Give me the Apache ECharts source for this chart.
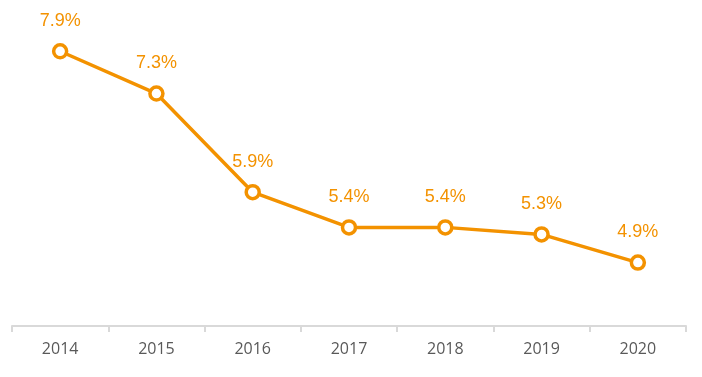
<!DOCTYPE html>
<html>
<head>
<meta charset="utf-8">
<script src="https://cdn.jsdelivr.net/npm/echarts@6/dist/echarts.min.js"></script>
<style>
  html, body { margin: 0; padding: 0; background: #fff; }
  #chart { width: 702px; height: 377px; }
</style>
</head>
<body>
<div id="chart"></div>
<script>
const years = ['2014', '2015', '2016', '2017', '2018', '2019', '2020'];
const rates = [7.9, 7.3, 5.9, 5.4, 5.4, 5.3, 4.9];

const chart = echarts.init(document.getElementById('chart'));
const orange = '#F39200';

chart.setOption({
    backgroundColor: '#fff',
    animation: false,
    grid: { left: 12, right: 16, top: 9, bottom: 51 },
    xAxis: {
        type: 'category',
        data: years,
        boundaryGap: true,
        axisLine: { lineStyle: { color: '#d9d9d9', width: 2 } },
        axisTick: { show: true, length: 6, lineStyle: { color: '#d9d9d9', width: 2 } },
        axisLabel: { color: '#595959', fontSize: 16, fontFamily: 'Open Sans', margin: 15 }
    },
    yAxis: {
        type: 'value',
        min: 4,
        max: 8.5,
        show: false,
        splitLine: { show: false }
    },
    series: [{
        type: 'line',
        data: rates,
        symbol: 'circle',
        symbolSize: 13,
        lineStyle: { color: orange, width: 3.5 },
        itemStyle: { color: '#fff', borderColor: orange, borderWidth: 3.5 },
        label: {
            show: true,
            position: 'top',
            distance: 13,
            color: orange,
            fontSize: 18,
            fontFamily: 'Liberation Sans',
            formatter: (p) => p.value.toFixed(1) + '%'
        }
    }]
});
</script>
</body>
</html>
